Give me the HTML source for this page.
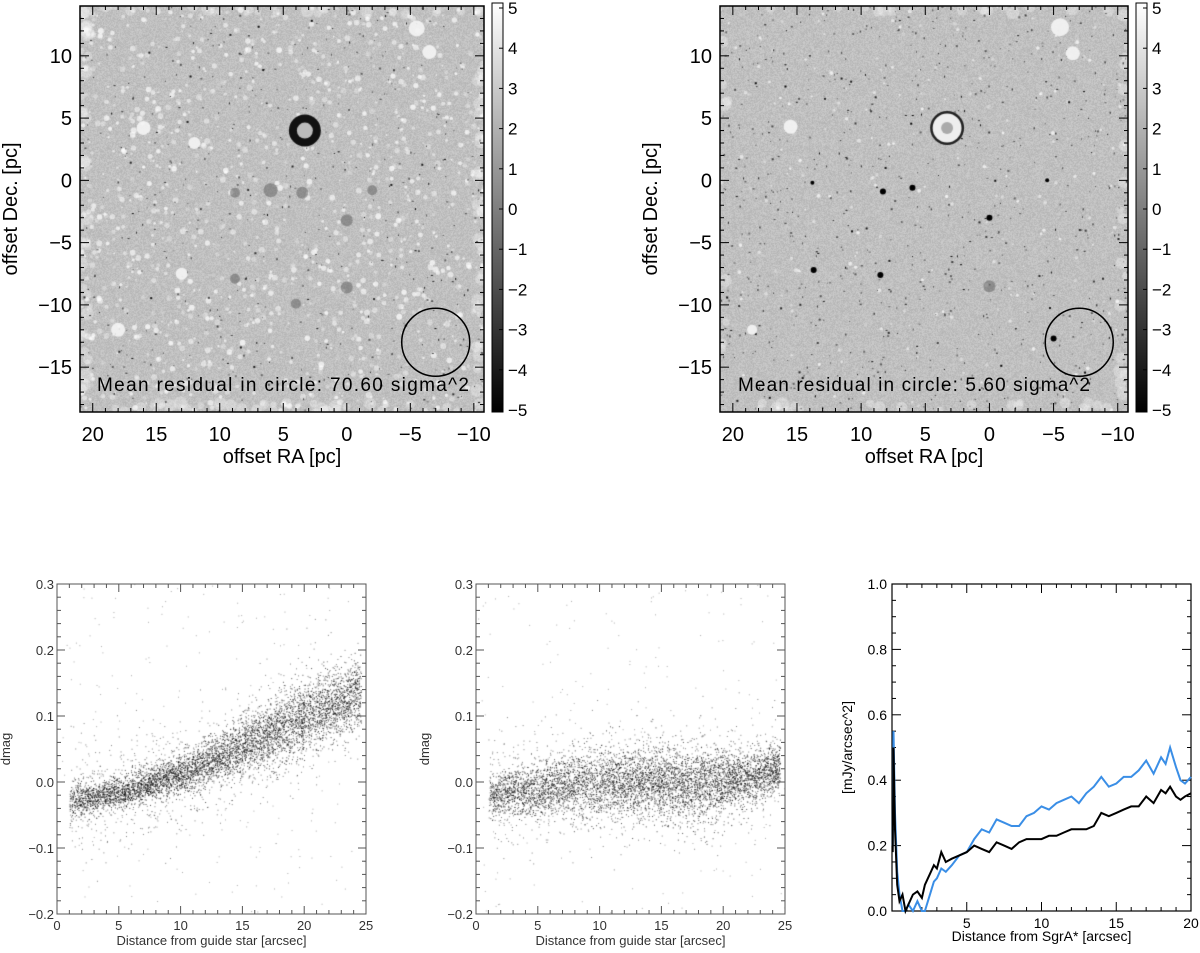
<!DOCTYPE html>
<html><head><meta charset="utf-8"><title>Residual maps and photometry</title>
<style>
html,body{margin:0;padding:0;background:#fff;}
#wrap{position:relative;width:1200px;height:953px;overflow:hidden;font-family:"Liberation Sans",sans-serif;}
canvas{position:absolute;}
svg{position:absolute;left:0;top:0;}
</style></head>
<body>
<div id="wrap">
<canvas id="imgL" style="left:80px;top:6px" width="404" height="406"></canvas>
<canvas id="imgR" style="left:720px;top:6px" width="408" height="406"></canvas>
<canvas id="scL" style="left:57px;top:584px" width="309" height="330"></canvas>
<canvas id="scM" style="left:476px;top:584px" width="309" height="330"></canvas>
<svg id="svg" width="1200" height="953" xmlns="http://www.w3.org/2000/svg"></svg>
</div>
<script>
// ---------- data ----------
const trendX      = [1, 3, 5, 8, 10, 12, 15, 18, 20, 23, 25];
const trendLeft   = [-0.03,-0.022,-0.015,0.0,0.012,0.028,0.055,0.08,0.10,0.12,0.14];
const spreadLeft  = [0.012,0.012,0.012,0.013,0.015,0.017,0.02,0.024,0.025,0.025,0.025];
const trendMid    = [-0.02,-0.015,-0.01,-0.003,0.0,0.0,0.0,-0.005,0.0,0.012,0.025];
const spreadMid   = [0.015,0.017,0.02,0.024,0.026,0.026,0.026,0.026,0.024,0.02,0.015];
const distX     = [0.05,0.1,0.2,0.35,0.5,0.7,0.9,1.1,1.4,1.7,2.0,2.2,2.4,2.6,2.8,3.0,3.3,3.6,4.0,4.5,5.0,5.5,6.0,6.5,7.0,7.5,8.0,8.5,9.0,9.5,10,10.5,11,11.5,12,12.5,13,13.5,14,14.5,15,15.5,16,16.5,17,17.5,18,18.3,18.6,19.0,19.3,19.6,20];
const fluxBlue  = [0.2,0.55,0.3,0.12,0.05,0.0,0.0,0.02,0.0,0.03,0.0,0.0,0.03,0.06,0.09,0.1,0.13,0.12,0.14,0.17,0.18,0.22,0.25,0.24,0.28,0.27,0.26,0.26,0.29,0.3,0.32,0.31,0.33,0.34,0.35,0.33,0.36,0.38,0.41,0.38,0.39,0.41,0.41,0.43,0.46,0.42,0.47,0.45,0.5,0.44,0.40,0.39,0.41];
const fluxBlack = [0.18,0.5,0.25,0.08,0.03,0.05,0.0,0.02,0.05,0.06,0.04,0.08,0.1,0.12,0.14,0.13,0.18,0.15,0.16,0.17,0.18,0.2,0.19,0.18,0.21,0.2,0.19,0.21,0.22,0.22,0.22,0.23,0.23,0.24,0.25,0.25,0.25,0.26,0.3,0.29,0.3,0.31,0.32,0.32,0.35,0.33,0.37,0.36,0.38,0.35,0.34,0.35,0.36];
const cbTicks = [5,4,3,2,1,0,-1,-2,-3,-4,-5];
const raTicks = [20,15,10,5,0,-5,-10];
const decTicks = [10,5,0,-5,-10,-15];
const dmagTicks = [0.3,0.2,0.1,0.0,-0.1,-0.2];
const distTicks = [0,5,10,15,20,25];
const fluxTicks = [0.0,0.2,0.4,0.6,0.8,1.0];
const sgrTicks = [5,10,15,20];

// ---------- helpers ----------
const NS="http://www.w3.org/2000/svg";
const svg=document.getElementById('svg');
function mk(tag,attrs,parent){const e=document.createElementNS(NS,tag);for(const k in attrs)e.setAttribute(k,attrs[k]);(parent||svg).appendChild(e);return e;}
function txt(s,x,y,size,anchor,extra){const t=mk('text',Object.assign({x:x,y:y,'font-size':size,'text-anchor':anchor||'middle','font-family':'Liberation Sans, sans-serif',fill:'#000'},extra||{}));t.textContent=s;return t;}
function rng(seed){return function(){seed|=0;seed=seed+0x6D2B79F5|0;let t=Math.imul(seed^seed>>>15,1|seed);t=t+Math.imul(t^t>>>7,61|t)^t;return((t^t>>>14)>>>0)/4294967296;}}
function gauss(r){return Math.sqrt(-2*Math.log(r()+1e-9))*Math.cos(2*Math.PI*r());}
function interp(xs,ys,x){if(x<=xs[0])return ys[0];for(let i=1;i<xs.length;i++){if(x<=xs[i]){const f=(x-xs[i-1])/(xs[i]-xs[i-1]);return ys[i-1]+f*(ys[i]-ys[i-1]);}}return ys[ys.length-1];}

// ---------- top image panels ----------
function imagePanel(cfg){
  const {L,R,T,B,canvasId,name,label,circ,dark,seed}=cfg;
  const sx=v=>L+(21.0-v)/(21.0+10.8)*(R-L);
  const sy=v=>T+(14.0-v)/(14.0+18.6)*(B-T);
  const c=document.getElementById(canvasId),ctx=c.getContext('2d');
  const w=c.width,h=c.height,r=rng(seed);
  const id=ctx.createImageData(w,h);
  for(let i=0;i<w*h;i++){const g=192+(r()-0.5)*26;id.data[i*4]=id.data[i*4+1]=id.data[i*4+2]=g;id.data[i*4+3]=255;}
  ctx.putImageData(id,0,0);
  ctx.fillStyle='rgba(255,255,255,0.3)';
  for(let i=0;i<(dark?60:120);i++){const e=r();let x,y;if(e<0.25){x=r()*8;y=r()*h;}else if(e<0.5){x=w-r()*8;y=r()*h;}else if(e<0.75){x=r()*w;y=h-r()*10;}else{x=r()*w;y=r()*8;}ctx.beginPath();ctx.arc(x,y,3+r()*4,0,7);ctx.fill();}
  const nW=dark?250:1200;
  for(let i=0;i<nW;i++){const x=r()*w,y=r()*h;ctx.fillStyle='rgba(255,255,255,'+(0.25+r()*0.5)+')';ctx.beginPath();ctx.arc(x,y,0.8+r()*(dark?1.2:2.2),0,7);ctx.fill();}
  const nB=dark?800:500;
  for(let i=0;i<nB;i++){const x=r()*w,y=r()*h;ctx.fillStyle='rgba(0,0,0,'+(0.4+r()*0.6)+')';ctx.fillRect(x,y,1+(r()<0.3?1:0),1+(r()<0.3?1:0));}
  for(const f of cfg.features){
    const x=sx(f[0])-L,y=sy(f[1])-T,rad=f[2];
    if(f[3]==='ringdark'){ctx.fillStyle='#111';ctx.beginPath();ctx.arc(x,y,rad,0,7);ctx.fill();ctx.fillStyle='#bbb';ctx.beginPath();ctx.arc(x,y,rad*0.5,0,7);ctx.fill();}
    else if(f[3]==='ringwhite'){ctx.fillStyle='#222';ctx.beginPath();ctx.arc(x,y,rad,0,7);ctx.fill();ctx.fillStyle='#eee';ctx.beginPath();ctx.arc(x,y,rad*0.85,0,7);ctx.fill();ctx.fillStyle='#aaa';ctx.beginPath();ctx.arc(x,y,rad*0.35,0,7);ctx.fill();}
    else if(f[3]==='white'){ctx.fillStyle='rgba(245,245,245,0.9)';ctx.beginPath();ctx.arc(x,y,rad,0,7);ctx.fill();}
    else if(f[3]==='grey'){ctx.fillStyle='rgba(90,90,90,0.5)';ctx.beginPath();ctx.arc(x,y,rad,0,7);ctx.fill();}
    else {ctx.fillStyle='#000';ctx.beginPath();ctx.arc(x,y,rad,0,7);ctx.fill();}
  }
  const g=mk('g',{});
  
  
  mk('rect',{x:L,y:T,width:R-L,height:B-T,fill:'none',stroke:'#000','stroke-width':1.5},g);
  for(let v=-10;v<=21;v++){const x=sx(v),len=(v%5===0)?9:4;mk('line',{x1:x,y1:B,x2:x,y2:B-len,stroke:'#000'},g);mk('line',{x1:x,y1:T,x2:x,y2:T+len,stroke:'#000'},g);}
  for(let v=-18;v<=14;v++){const y=sy(v),len=(v%5===0)?9:4;mk('line',{x1:L,y1:y,x2:L+len,y2:y,stroke:'#000'},g);mk('line',{x1:R,y1:y,x2:R-len,y2:y,stroke:'#000'},g);}
  raTicks.forEach(v=>{const t=txt(String(v).replace('-','\u2212'),sx(v),B+29,20,'middle',{});});
  decTicks.forEach(v=>{const t=txt(String(v).replace('-','\u2212'),L-8,sy(v)+7,20,'end',{});});
  const xt=txt('offset RA [pc]',(L+R)/2,B+51,20,'middle');
  const yt=txt('offset Dec. [pc]',0,0,20,'middle',{transform:'translate('+(L-63)+','+((T+B)/2)+') rotate(-90)'});
  const c1=mk('ellipse',{cx:sx(circ[0]),cy:sy(circ[1]),rx:34,ry:34,fill:'none',stroke:'#000','stroke-width':1.5},g);
  
  const lt=txt(label,L+cfg.labelDx,B-21,19,'start',{textLength:cfg.labelW,lengthAdjust:'spacing'});
  const cbx=R+8,cbw=11;
  const gid='cbg'+canvasId;
  const defs=mk('defs',{});const lg=mk('linearGradient',{id:gid,x1:0,y1:1,x2:0,y2:0},defs);
  mk('stop',{offset:0,'stop-color':'#000'},lg);mk('stop',{offset:1,'stop-color':'#fff'},lg);
  const cb=mk('rect',{x:cbx,y:T-3,width:cbw,height:B-T+3,fill:'url(#'+gid+')',stroke:'#000','stroke-width':1});
  
  cbTicks.forEach(v=>{const y=T+2+(5-v)/10*(B-T-4);mk('line',{x1:cbx+cbw-4,y1:y,x2:cbx+cbw,y2:y,stroke:'#000'});const t=txt(String(v).replace('-','\u2212'),cbx+cbw+5,y+6,17,'start');});
}
imagePanel({L:80,R:484,T:6,B:412,canvasId:'imgL',name:'residual-map-left-frame',label:'Mean residual in circle:  70.60 sigma^2',labelDx:17,labelW:372,circ:[-7.0,-13.0],dark:false,seed:11,
  features:[[3.3,4.0,16,'ringdark'],[16,4.2,7,'white'],[-5.5,12.2,8,'white'],[-6.5,10.3,7,'white'],[6,-0.8,7,'grey'],[8.8,-1.0,5,'grey'],[3.5,-1.0,6,'grey'],[-2,-0.8,5,'grey'],[0,-3.2,6,'grey'],[8.8,-7.9,5,'grey'],[4,-9.9,5,'grey'],[0,-8.6,6,'grey'],[18,-12,7,'white'],[13,-7.5,6,'white'],[12,3,6,'white']]});
imagePanel({L:720,R:1128,T:6,B:412,canvasId:'imgR',name:'residual-map-right-frame',label:'Mean residual in circle: 5.60 sigma^2',labelDx:18,labelW:352,circ:[-7.0,-13.0],dark:true,seed:23,
  features:[[3.3,4.2,17,'ringwhite'],[15.5,4.3,7,'white'],[-5.5,12.3,9,'white'],[-6.5,10.2,7,'white'],[13.7,-7.2,3,'black'],[8.5,-7.6,3,'black'],[6,-0.6,3,'black'],[8.3,-0.9,3,'black'],[0,-3.0,3,'black'],[-5,-12.7,3,'black'],[13.8,-0.2,2,'black'],[-4.5,0,2,'black'],[0,-8.5,6,'grey'],[18.5,-12,5,'white']]});

// ---------- scatter panels ----------
function scatterPanel(cfg){
  const {L,R,T,B,canvasId,trend,spread,seed,name}=cfg;
  const sx=v=>L+v/25*(R-L), sy=v=>T+(0.3-v)/0.5*(B-T);
  const c=document.getElementById(canvasId),ctx=c.getContext('2d');const r=rng(seed);
  ctx.fillStyle='rgba(0,0,0,0.7)';
  for(let i=0;i<5000;i++){
    const x=1+Math.pow(r(),0.9)*23.6;
    const y=interp(trendX,trend,x)+gauss(r)*interp(trendX,spread,x);
    ctx.fillRect(sx(x)-L,sy(y)-T,1,1);
  }
  ctx.fillStyle='rgba(0,0,0,0.5)';
  for(let i=0;i<1100;i++){
    const x=1+r()*23.5;
    const y=interp(trendX,trend,x)+gauss(r)*0.045;
    ctx.fillRect(sx(x)-L,sy(y)-T,1,1);
  }
  ctx.fillStyle='rgba(0,0,0,0.35)';
  for(let i=0;i<220;i++){const x=r()*25,y=-0.2+r()*0.5;ctx.fillRect(sx(x)-L,sy(y)-T,1,1);}
  const g=mk('g',{});
  mk('rect',{x:L,y:T,width:R-L,height:B-T,fill:'none',stroke:'#555','stroke-width':1},g);
  for(let v=0;v<=25;v++){const x=sx(v),len=(v%5===0)?8:4;mk('line',{x1:x,y1:B,x2:x,y2:B-len,stroke:'#555'},g);mk('line',{x1:x,y1:T,x2:x,y2:T+len,stroke:'#555'},g);}
  for(let k=0;k<=25;k++){const v=-0.2+k*0.02,y=sy(v),len=(k%5===0)?8:4;mk('line',{x1:L,y1:y,x2:L+len,y2:y,stroke:'#555'},g);mk('line',{x1:R,y1:y,x2:R-len,y2:y,stroke:'#555'},g);}
  distTicks.forEach(v=>{const t=txt(String(v),sx(v),B+16,13,'middle',{fill:'#333'});});
  dmagTicks.forEach(v=>{const t=txt(v.toFixed(1).replace('-','\u2212'),L-3,sy(v)+5,13,'end',{fill:'#333'});});
  const xt=txt('Distance from guide star [arcsec]',(L+R)/2,B+31,13,'middle',{fill:'#333'});
  const yt=txt('dmag',0,0,13,'middle',{fill:'#333',transform:'translate('+(L-47)+','+((T+B)/2)+') rotate(-90)'});
}
scatterPanel({L:57,R:366,T:584,B:914,canvasId:'scL',trend:trendLeft,spread:spreadLeft,seed:5,name:'scatter-left'});
scatterPanel({L:476,R:785,T:584,B:914,canvasId:'scM',trend:trendMid,spread:spreadMid,seed:9,name:'scatter-middle'});

// ---------- flux profile ----------
(function(){
  const L=892,R=1191,T=584,B=911;
  const sx=v=>L+v/20*(R-L), sy=v=>B-v/1.0*(B-T);
  const g=mk('g',{});
  mk('rect',{x:L,y:T,width:R-L,height:B-T,fill:'none',stroke:'#000','stroke-width':1.2},g);
  for(let v=0;v<=20;v++){const x=sx(v),len=(v%5===0)?9:4;mk('line',{x1:x,y1:B,x2:x,y2:B-len,stroke:'#000'},g);mk('line',{x1:x,y1:T,x2:x,y2:T+len,stroke:'#000'},g);}
  for(let k=0;k<=20;k++){const y=sy(k*0.05),len=(k%4===0)?9:4;mk('line',{x1:L,y1:y,x2:L+len,y2:y,stroke:'#000'},g);mk('line',{x1:R,y1:y,x2:R-len,y2:y,stroke:'#000'},g);}
  const pts=ys=>distX.map((x,i)=>sx(x).toFixed(1)+','+sy(Math.max(0,ys[i])).toFixed(1)).join(' ');
  const pb=mk('polyline',{points:pts(fluxBlue),fill:'none',stroke:'#3a8ee6','stroke-width':2},g);
  
  const pk=mk('polyline',{points:pts(fluxBlack),fill:'none',stroke:'#000','stroke-width':2},g);
  
  sgrTicks.forEach(v=>{const t=txt(String(v),sx(v),B+17,14,'middle');});
  fluxTicks.forEach(v=>{const t=txt(v.toFixed(1),L-5,sy(v)+5,14,'end');});
  const xt=txt('Distance from SgrA* [arcsec]',(L+R)/2,B+30,14,'middle');
  const yt=txt('[mJy/arcsec^2]',0,0,14,'middle',{transform:'translate('+(L-40)+','+((T+B)/2)+') rotate(-90)'});
})();
</script>
</body></html>
